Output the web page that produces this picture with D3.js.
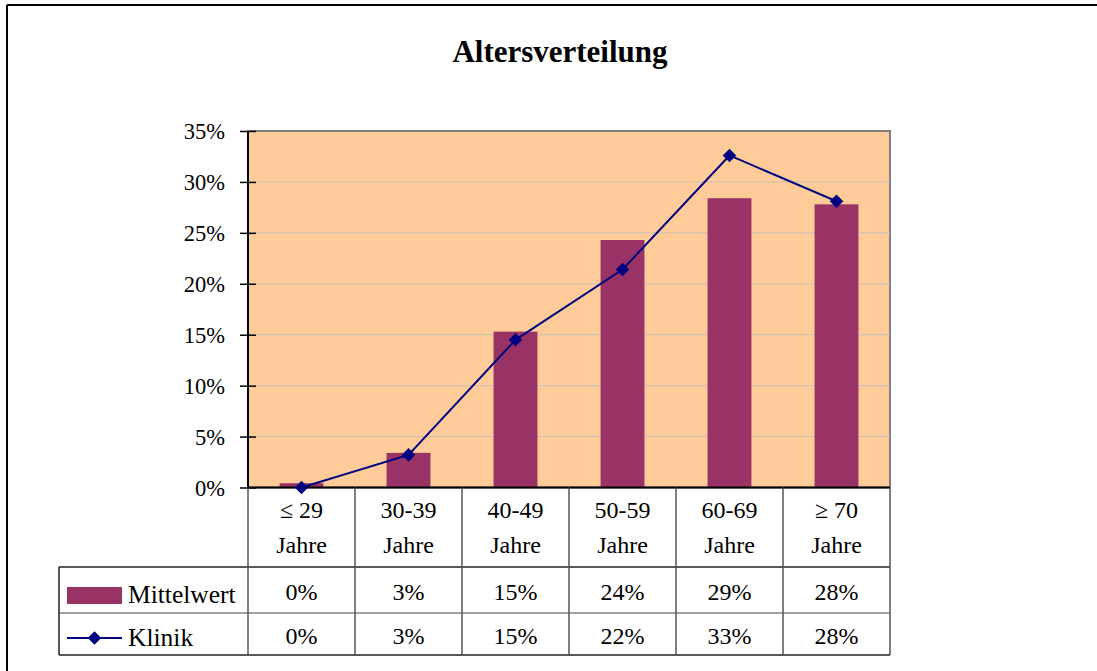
<!DOCTYPE html>
<html>
<head>
<meta charset="utf-8">
<script src="https://cdn.jsdelivr.net/npm/d3@7/dist/d3.min.js"></script>
<style>
  html, body { margin: 0; padding: 0; background: #fff; }
  svg { display: block; font-family: "Liberation Serif", "Times New Roman", serif; }
</style>
</head>
<body>
<div id="chart"></div>
<script>
// Data
const categories = ["≤ 29|Jahre", "30-39|Jahre", "40-49|Jahre", "50-59|Jahre", "60-69|Jahre", "≥ 70|Jahre"];
const mittelwert = [0.0042, 0.034, 0.153, 0.243, 0.284, 0.278];
const klinik = [0.0, 0.032, 0.145, 0.214, 0.326, 0.281];
const mittelwertLabels = ["0%", "3%", "15%", "24%", "29%", "28%"];
const klinikLabels = ["0%", "3%", "15%", "22%", "33%", "28%"];
const yTicks = [0, 0.05, 0.10, 0.15, 0.20, 0.25, 0.30, 0.35];

const W = 1097, H = 671;
const plot = { left: 248, right: 890, top: 131, bottom: 487.5 };
const table = { left: 59, headBottom: 567, row1Bottom: 613, row2Bottom: 655 };

const svg = d3.select("#chart").append("svg")
    .attr("width", W)
    .attr("height", H);

// Outer frame (top + left only visible)
svg.append("line")
    .attr("x1", 7).attr("y1", 5).attr("x2", W).attr("y2", 5)
    .attr("stroke", "#000").attr("stroke-width", 2);
svg.append("line")
    .attr("x1", 7).attr("y1", 5).attr("x2", 7).attr("y2", H)
    .attr("stroke", "#000").attr("stroke-width", 2);

// Title
svg.append("text")
    .attr("x", 560)
    .attr("y", 62)
    .attr("text-anchor", "middle")
    .attr("font-size", "31px")
    .attr("font-weight", "bold")
    .attr("textLength", 215)
    .attr("lengthAdjust", "spacingAndGlyphs")
    .text("Altersverteilung");

const x = d3.scaleBand()
    .domain(categories)
    .range([plot.left, plot.right])
    .paddingInner(0.59)
    .paddingOuter(0.295);

const xBand = d3.scaleBand()
    .domain(categories)
    .range([plot.left, plot.right]);

const y = d3.scaleLinear()
    .domain([0, 0.35])
    .range([plot.bottom, plot.top]);

// Plot background
svg.append("rect")
    .attr("x", plot.left)
    .attr("y", plot.top)
    .attr("width", plot.right - plot.left)
    .attr("height", plot.bottom - plot.top)
    .attr("fill", "#FFCC99")
    .attr("stroke", "#808080")
    .attr("stroke-width", 2);

// Gridlines
svg.append("g")
    .selectAll("line")
    .data(yTicks.slice(1, -1))
    .join("line")
    .attr("x1", plot.left)
    .attr("x2", plot.right)
    .attr("y1", d => y(d))
    .attr("y2", d => y(d))
    .attr("stroke", "#c8c0b4")
    .attr("stroke-width", 1);

// Bars
svg.append("g")
    .selectAll("rect")
    .data(categories)
    .join("rect")
    .attr("x", d => x(d))
    .attr("width", x.bandwidth())
    .attr("y", (d, i) => y(mittelwert[i]))
    .attr("height", (d, i) => y(0) - y(mittelwert[i]))
    .attr("fill", "#993366");

// Y axis
const yAxis = svg.append("g")
    .attr("transform", `translate(${plot.left},0)`)
    .call(d3.axisLeft(y)
        .tickValues(yTicks)
        .tickSize(0)
        .tickFormat(d3.format(".0%")));
yAxis.select(".domain").remove();
yAxis.selectAll("text")
    .attr("x", -23)
    .attr("dy", "0.35em")
    .attr("fill", "#000")
    .attr("font-size", "22.5px")
    .attr("font-family", "Liberation Serif, Times New Roman, serif");
yAxis.selectAll(".tick")
    .append("line")
    .attr("x1", -8).attr("x2", 8)
    .attr("stroke", "#000").attr("stroke-width", 1.5);
svg.append("line")
    .attr("x1", plot.left).attr("x2", plot.left)
    .attr("y1", plot.top).attr("y2", plot.bottom)
    .attr("stroke", "#000").attr("stroke-width", 2);
svg.append("line")
    .attr("x1", plot.left).attr("x2", plot.right)
    .attr("y1", plot.bottom).attr("y2", plot.bottom)
    .attr("stroke", "#000").attr("stroke-width", 2);

// Line series
const cx = d => xBand(d) + xBand.bandwidth() / 2;
const line = d3.line()
    .x(d => cx(d))
    .y((d, i) => y(klinik[i]));
svg.append("path")
    .datum(categories)
    .attr("d", line)
    .attr("fill", "none")
    .attr("stroke", "#000080")
    .attr("stroke-width", 2);

const diamond = d3.symbol().type(d3.symbolSquare).size(92);
svg.append("g")
    .selectAll("path")
    .data(categories)
    .join("path")
    .attr("d", diamond)
    .attr("transform", (d, i) => `translate(${cx(d)},${y(klinik[i])}) rotate(45)`)
    .attr("fill", "#000080");

// Data table
const tbl = svg.append("g");
const gridStroke = "#555";

// Horizontal lines
tbl.append("line")
    .attr("x1", table.left).attr("x2", plot.right)
    .attr("y1", table.headBottom).attr("y2", table.headBottom)
    .attr("stroke", "#222").attr("stroke-width", 1.5);
tbl.append("line")
    .attr("x1", table.left).attr("x2", plot.right)
    .attr("y1", table.row1Bottom).attr("y2", table.row1Bottom)
    .attr("stroke", "#444").attr("stroke-width", 1.2);
tbl.append("line")
    .attr("x1", table.left).attr("x2", plot.right)
    .attr("y1", table.row2Bottom).attr("y2", table.row2Bottom)
    .attr("stroke", "#222").attr("stroke-width", 1.5);

// Vertical lines
const boundaries = categories.map(d => xBand(d)).concat([plot.right]);
tbl.selectAll("line.v")
    .data(boundaries)
    .join("line")
    .attr("class", "v")
    .attr("x1", d => d).attr("x2", d => d)
    .attr("y1", plot.bottom).attr("y2", table.row2Bottom)
    .attr("stroke", gridStroke)
    .attr("stroke-width", 1.5);
tbl.append("line")
    .attr("x1", table.left).attr("x2", table.left)
    .attr("y1", table.headBottom).attr("y2", table.row2Bottom)
    .attr("stroke", "#222").attr("stroke-width", 1.5);

// Header labels
const head = tbl.selectAll("text.head")
    .data(categories)
    .join("text")
    .attr("class", "head")
    .attr("text-anchor", "middle")
    .attr("font-size", "24px")
    .attr("fill", "#000");
head.append("tspan")
    .attr("x", d => cx(d))
    .attr("y", 518)
    .text(d => d.split("|")[0]);
head.append("tspan")
    .attr("x", d => cx(d))
    .attr("y", 553)
    .text(d => d.split("|")[1]);

// Values
tbl.selectAll("text.v1")
    .data(categories)
    .join("text")
    .attr("class", "v1")
    .attr("x", d => cx(d))
    .attr("y", 600)
    .attr("text-anchor", "middle")
    .attr("font-size", "24px")
    .text((d, i) => mittelwertLabels[i]);
tbl.selectAll("text.v2")
    .data(categories)
    .join("text")
    .attr("class", "v2")
    .attr("x", d => cx(d))
    .attr("y", 644)
    .attr("text-anchor", "middle")
    .attr("font-size", "24px")
    .text((d, i) => klinikLabels[i]);

// Legend keys
tbl.append("rect")
    .attr("x", 67).attr("y", 587)
    .attr("width", 55).attr("height", 17)
    .attr("fill", "#993366");
tbl.append("text")
    .attr("x", 128).attr("y", 603)
    .attr("font-size", "25.5px")
    .text("Mittelwert");
tbl.append("line")
    .attr("x1", 67).attr("x2", 122)
    .attr("y1", 638).attr("y2", 638)
    .attr("stroke", "#000080").attr("stroke-width", 2);
tbl.append("path")
    .attr("d", diamond)
    .attr("transform", "translate(94.5,638) rotate(45)")
    .attr("fill", "#000080");
tbl.append("text")
    .attr("x", 128).attr("y", 646)
    .attr("font-size", "25.5px")
    .text("Klinik");
</script>
</body>
</html>
